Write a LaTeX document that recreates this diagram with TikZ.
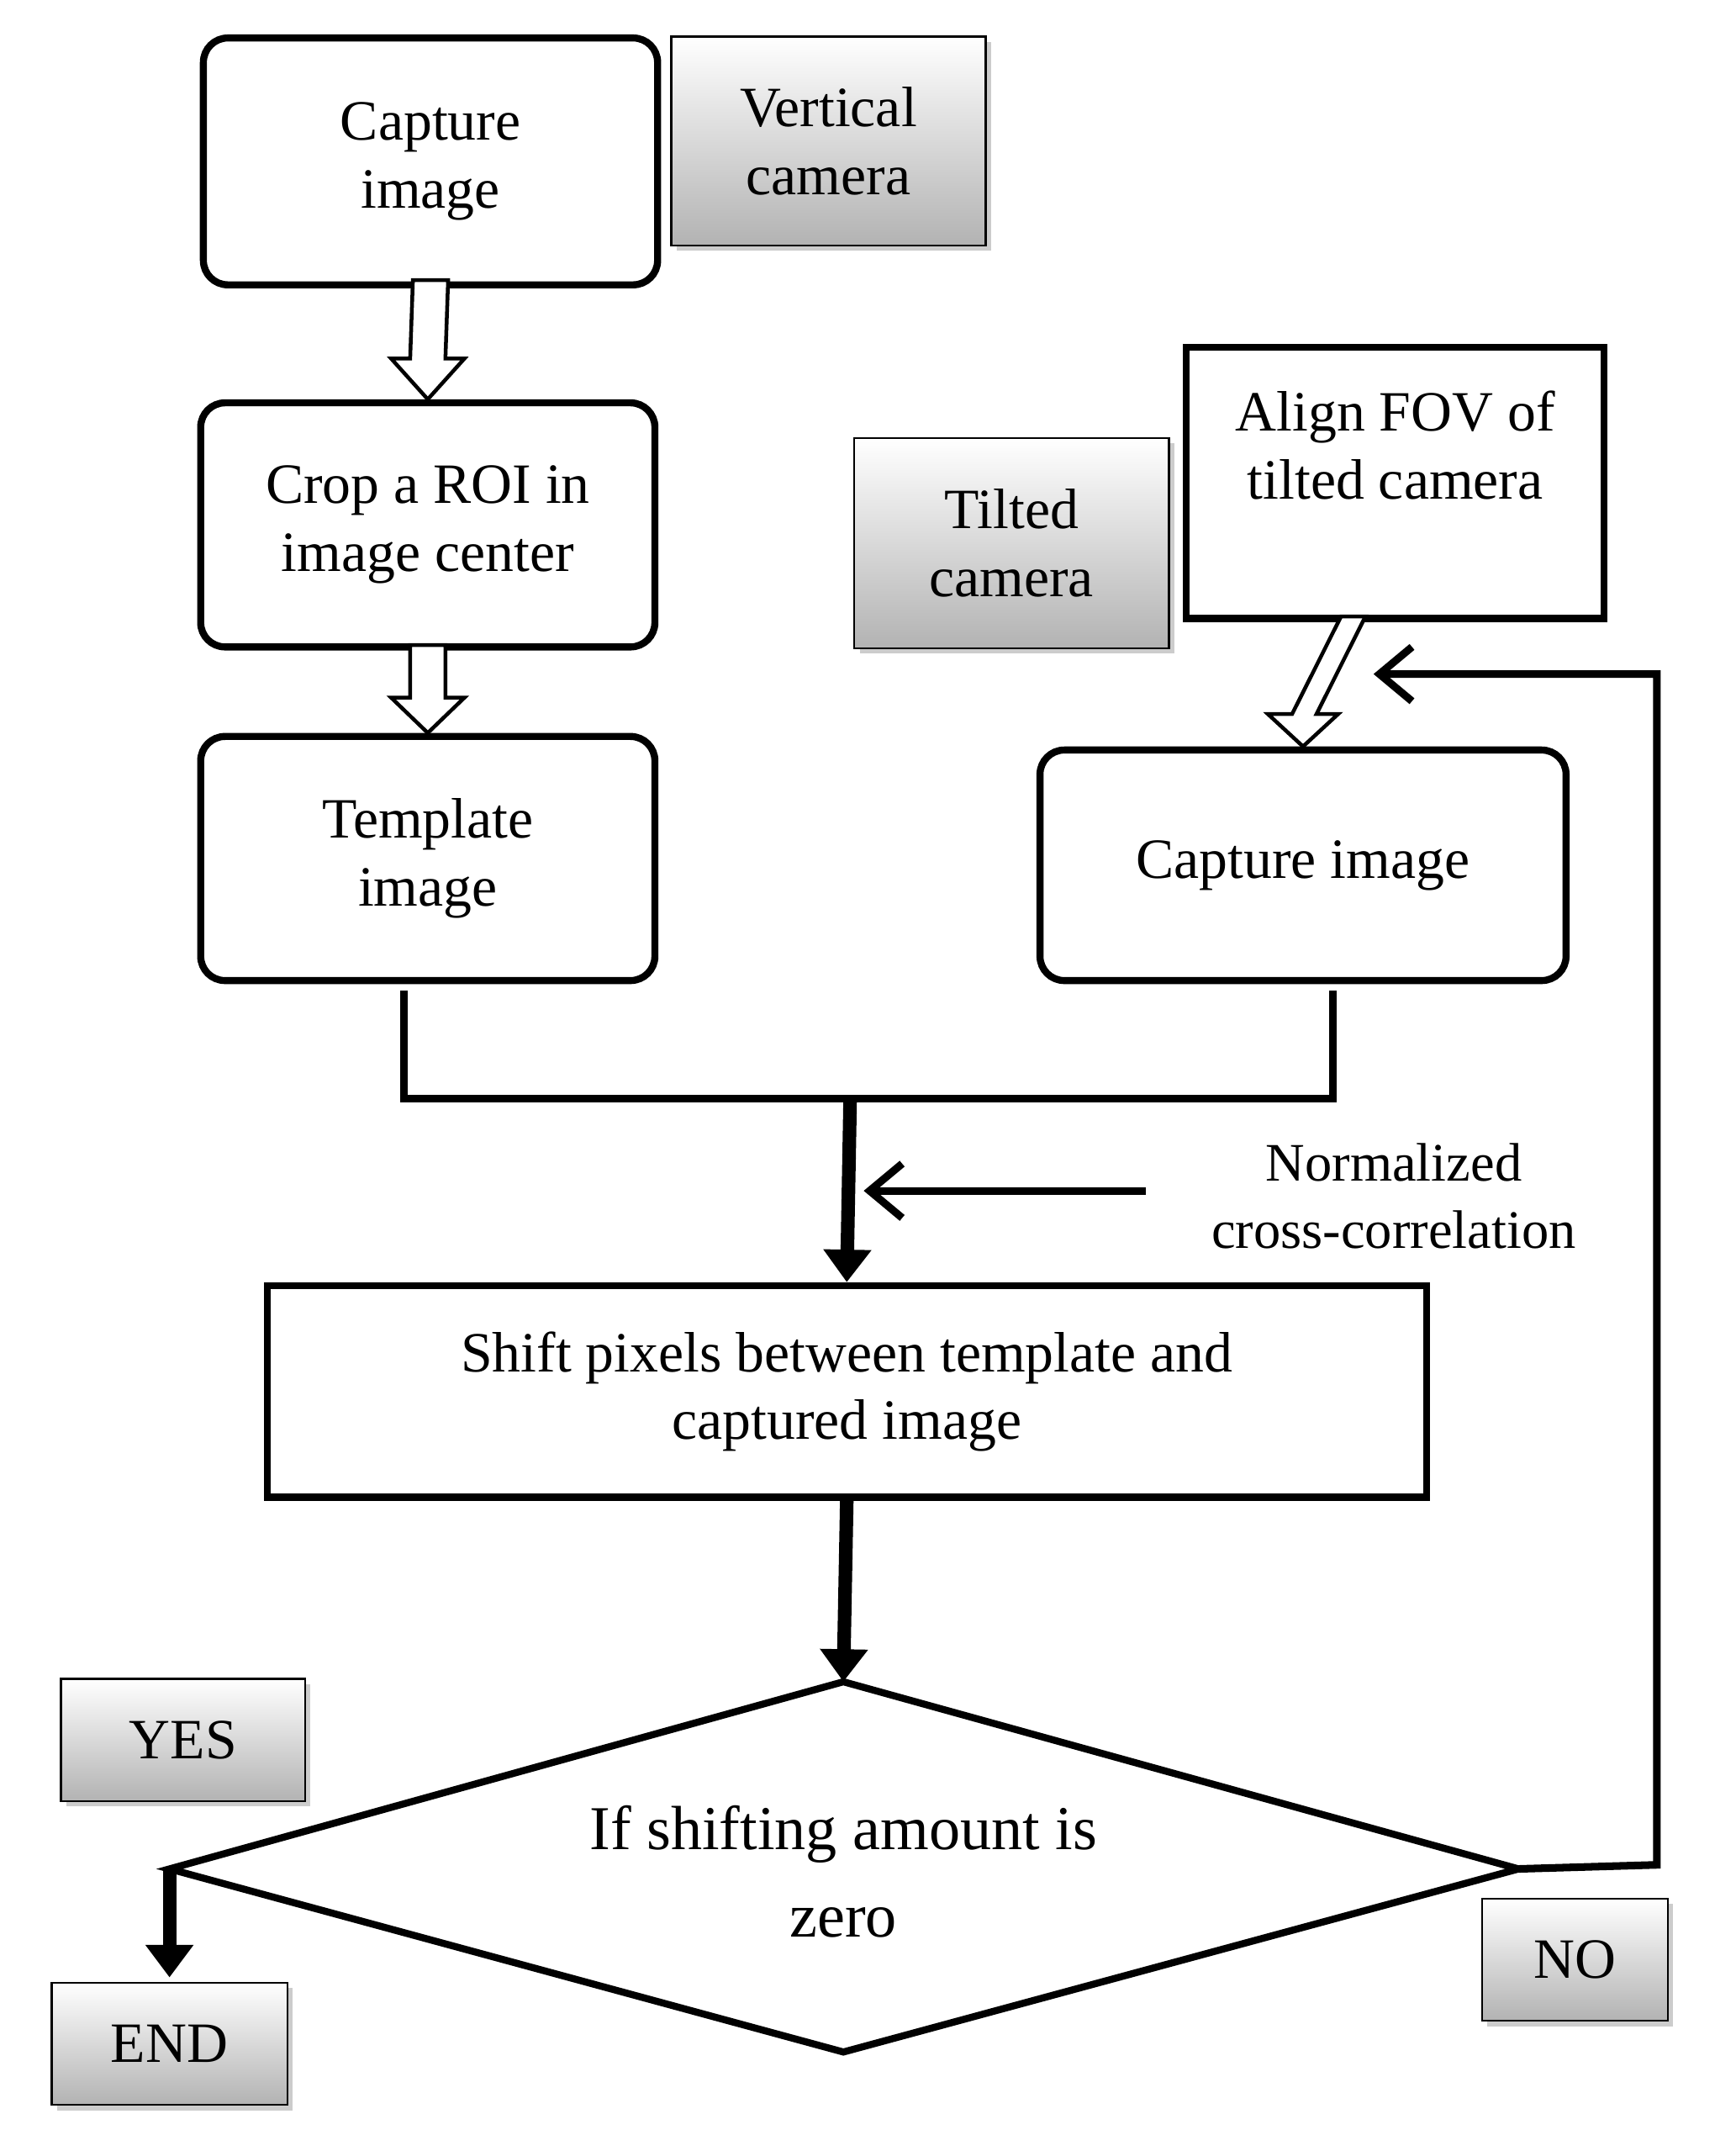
\documentclass[tikz,border=0pt]{standalone}
\usepackage{fontspec}
\setmainfont{Liberation Serif}
\usetikzlibrary{shadows,arrows.meta,calc}
\begin{document}
\begin{tikzpicture}[x=0.5pt,y=-0.5pt,
  txt/.style={font=\fontsize{21}{25}\selectfont,align=center},
  box/.style={txt,draw,line width=2.6pt,rounded corners=9pt,inner sep=0pt},
  sbox/.style={txt,draw,line width=2.6pt,inner sep=0pt},
  gbox/.style={txt,draw,line width=0.8pt,top color=white,bottom color=black!30,drop shadow={shadow xshift=2pt,shadow yshift=-2pt,opacity=0.4},inner sep=0pt},
  hollow/.style={draw,line width=1.4pt,fill=white},
  thick/.style={line width=5pt},
  head/.style={-{Triangle[length=12pt,width=17pt]}}
]
\useasboundingbox (0,0) rectangle (1280,1586);
\node[box,minimum width=167.5pt,minimum height=91pt] (cap) at (317.5,119) {Capture\\image};
\node[gbox,minimum width=116pt,minimum height=77pt] (vert) at (611,104) {Vertical\\camera};
\node[box,minimum width=167.5pt,minimum height=90pt] (crop) at (315.5,387) {Crop a ROI in\\image center};
\node[box,minimum width=167.5pt,minimum height=90pt] (tmpl) at (315.5,633) {Template\\image};
\node[gbox,minimum width=116pt,minimum height=77.5pt] (tilt) at (746,400.5) {Tilted\\camera};
\node[sbox,minimum width=154pt,minimum height=100pt,text depth=28pt] (align) at (1029,356) {Align FOV of\\tilted camera};
\node[box,minimum width=194pt,minimum height=85pt] (capr) at (961,638) {Capture image};
\node[sbox,minimum width=427.5pt,minimum height=78pt] (shift) at (624.5,1026) {Shift pixels between template and\\captured image};
\coordinate (dt) at (622,1240);
\coordinate (dl) at (125,1378);
\coordinate (dr) at (1120,1378);
\coordinate (db) at (622,1513);
\draw[line width=2.6pt] (dt)--(dr)--(db)--(dl)--cycle;
\node[txt,font=\fontsize{23}{32}\selectfont] (dtext) at (622,1380) {If shifting amount is\\zero};
\node[gbox,minimum width=90pt,minimum height=45pt] (yes) at (135,1283) {YES};
\node[gbox,minimum width=87pt,minimum height=45pt] (end) at (125,1507) {END};
\node[gbox,minimum width=68.5pt,minimum height=45pt] (no) at (1161.5,1445) {NO};
\node[txt,font=\fontsize{20}{25}\selectfont] (ncc) at (1028,882) {Normalized\\cross-correlation};
% hollow arrows
\draw[hollow] ($(cap.south)+(-13,-6)$) -- ($(cap.south)+(13,-6)$) -- ($(crop.north)+(13,-30)$) -- ($(crop.north)+(27,-30)$) -- ($(crop.north)+(0,0)$) -- ($(crop.north)+(-27,-30)$) -- ($(crop.north)+(-13,-30)$) -- cycle;
\draw[hollow] ($(crop.south)+(-13,-4)$) -- ($(crop.south)+(13,-4)$) -- ($(tmpl.north)+(13,-26)$) -- ($(tmpl.north)+(27,-26)$) -- ($(tmpl.north)+(0,0)$) -- ($(tmpl.north)+(-27,-26)$) -- ($(tmpl.north)+(-13,-26)$) -- cycle;
\draw[hollow] ($(align.south)+(-40,-4)$) -- ($(align.south)+(-22,-4)$) -- ($(capr.north)+(10,-24)$) -- ($(capr.north)+(26,-24)$) -- ($(capr.north)+(0,0)$) -- ($(capr.north)+(-26,-24)$) -- ($(capr.north)+(-8,-24)$) -- cycle;
% merge lines
\coordinate (m) at (627,810);
\draw[line width=2.8pt] ($(tmpl.south)+(-17.5,5)$) |- (m) -| ($(capr.south)+(22,5)$);
\draw[thick,head] (m) -- (shift.north);
\coordinate (nccs) at (845,878);
\draw[line width=2.8pt,-{Straight Barb[length=12pt,width=20pt,line width=2.8pt]}] (nccs) -- (637,878);
\draw[thick,head] (shift.south) -- (dt);
\draw[thick,head] (dl) -- (125,1458);
\coordinate (fb1) at (1222,1375);
\coordinate (fb2) at (1222,497);
\draw[line width=2.8pt,-{Straight Barb[length=12pt,width=20pt,line width=2.8pt]}] (dr) -- (fb1) -- (fb2) -- (1013,497);
\end{tikzpicture}
\end{document}
